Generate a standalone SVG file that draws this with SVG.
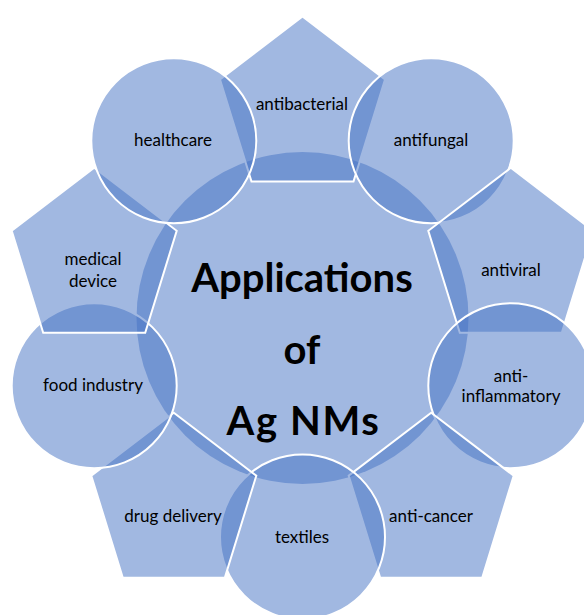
<svg xmlns="http://www.w3.org/2000/svg" width="584" height="615" viewBox="0 0 584 615">
  <defs>
    <style>
      .hub { fill: #4472C4; fill-opacity: 0.5; stroke: none; }
      .shape { fill: #4472C4; fill-opacity: 0.5; stroke: #FFFFFF; stroke-width: 2; }
      .label { font-family: Lato, "Liberation Sans", sans-serif; font-size: 17px; fill: #000000; text-anchor: middle; }
      .title { font-family: Lato, "Liberation Sans", sans-serif; font-size: 40px; font-weight: bold; fill: #000000; text-anchor: middle; }
      .wide { letter-spacing: 1.6px; }
    </style>
    <!-- upright pentagon in a 165 x 165 box, centred on the origin -->
    <path id="pent" d="M0,-82.5 L82.5,-19.5 L51,82.5 L-51,82.5 L-82.5,-19.5 Z"/>
  </defs>

  <!-- central hub -->
  <g id="hub">
    <circle class="hub" cx="302.5" cy="318" r="166"/>
    <text class="title" x="302" y="292">Applications</text>
    <text class="title" x="302" y="364">of</text>
    <text class="title wide" x="303.5" y="435">Ag NMs</text>
  </g>

  <!-- ring of applications, drawn clockwise from the top -->
  <g id="antibacterial">
    <use class="shape" href="#pent" x="302.5" y="99"/>
    <text class="label" x="302" y="110">antibacterial</text>
  </g>
  <g id="antifungal">
    <circle class="shape" cx="431.2" cy="140.8" r="82.5"/>
    <text class="label" x="431" y="146">antifungal</text>
  </g>
  <g id="antiviral">
    <use class="shape" href="#pent" x="510.8" y="250.3"/>
    <text class="label" x="511" y="276">antiviral</text>
  </g>
  <g id="anti-inflammatory">
    <circle class="shape" cx="510.8" cy="385.7" r="82.5"/>
    <text class="label" x="511" y="381.5">anti-</text>
    <text class="label" x="511" y="401.5">inflammatory</text>
  </g>
  <g id="anti-cancer">
    <use class="shape" href="#pent" x="431.2" y="495.2"/>
    <text class="label" x="431" y="521.5">anti-cancer</text>
  </g>
  <g id="textiles">
    <circle class="shape" cx="302.5" cy="537" r="82.5"/>
    <text class="label" x="302" y="543">textiles</text>
  </g>
  <g id="drug-delivery">
    <use class="shape" href="#pent" x="173.8" y="495.2"/>
    <text class="label" x="173" y="521.5">drug delivery</text>
  </g>
  <g id="food-industry">
    <circle class="shape" cx="94.2" cy="385.7" r="82.5"/>
    <text class="label" x="93" y="390.5">food industry</text>
  </g>
  <g id="medical-device">
    <use class="shape" href="#pent" x="94.2" y="250.3"/>
    <text class="label" x="93" y="265">medical</text>
    <text class="label" x="93" y="286.5">device</text>
  </g>
  <g id="healthcare">
    <circle class="shape" cx="173.8" cy="140.8" r="82.5"/>
    <text class="label" x="173" y="146">healthcare</text>
  </g>
</svg>
